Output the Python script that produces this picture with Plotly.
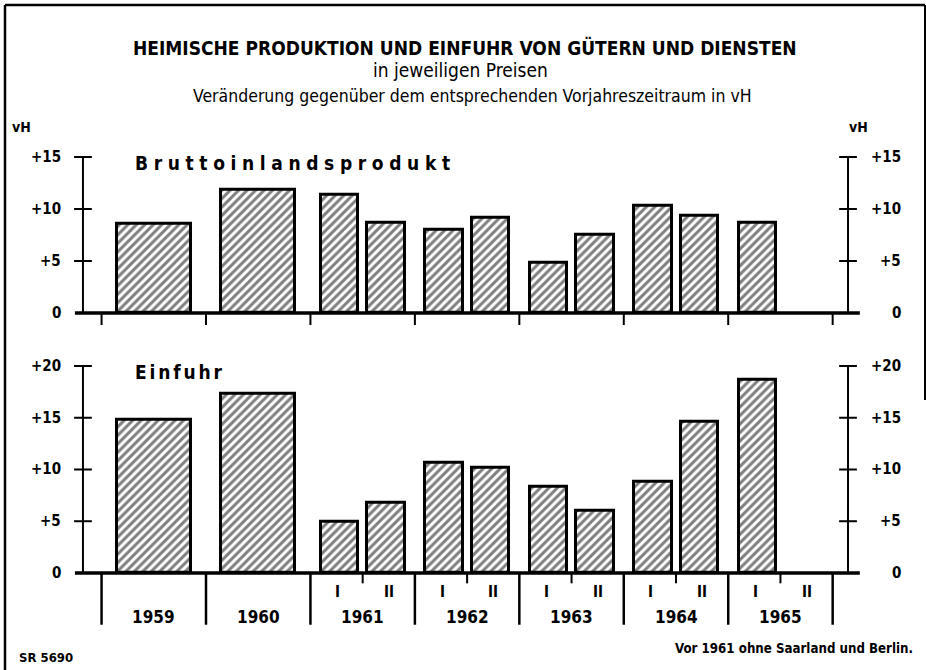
import plotly.graph_objects as go

# ---------------- data ----------------
periods = ["1959", "1960",
           "1961 I", "1961 II", "1962 I", "1962 II", "1963 I", "1963 II",
           "1964 I", "1964 II", "1965 I", "1965 II"]
years = ["1959", "1960", "1961", "1962", "1963", "1964", "1965"]
half_labels = ["I", "II"]
bip = [8.6, 11.8, 11.4, 8.7, 8.0, 9.2, 4.8, 7.5, 10.3, 9.3, 8.7, None]
einfuhr = [14.8, 17.3, 4.9, 6.8, 10.6, 10.2, 8.3, 6.0, 8.8, 14.6, 18.7, None]
ticks_bip = [0, 5, 10, 15]
ticks_bip_text = ["0", "+5", "+10", "+15"]
ticks_einf = [0, 5, 10, 15, 20]
ticks_einf_text = ["0", "+5", "+10", "+15", "+20"]

title1 = "HEIMISCHE PRODUKTION UND EINFUHR VON GÜTERN UND DIENSTEN"
title2 = "in jeweiligen Preisen"
title3 = "Veränderung gegenüber dem entsprechenden Vorjahreszeitraum in vH"
panel1 = "Bruttoinlandsprodukt"
panel2 = "Einfuhr"
note_left = "SR 5690"
note_right = "Vor 1961 ohne Saarland und Berlin."

# ---------------- layout helpers ----------------
W, H = 926, 670
FONT = "Liberation Sans Narrow, DejaVu Sans Condensed, Roboto, Arial, sans-serif"
X_RANGE = [-0.35, 7.3]
X_DOM = [65 / W, 864 / W]
Y1_RANGE = [-1.5, 15.5]
Y2_RANGE = [-5.5, 20.5]
def py(p):
    return 1 - p / H
Y1_DOM = [py(328.6), py(151.8)]
Y2_DOM = [py(629.9), py(360.8)]
AX_L, AX_R = -0.178, 7.147
TICK_HALF = 0.085
BASE_L, BASE_R = -0.255, 7.26

# bar positions derived from the period labels
xs, ws = [], []
for p in periods:
    parts = p.split()
    yi = years.index(parts[0])
    if len(parts) == 1:
        xs.append(yi + 0.5)
        ws.append(0.71)
    else:
        xs.append(yi + (0.28 if parts[1] == "I" else 0.725))
        ws.append(0.36)

bar_style = dict(color="white",
                 line=dict(color="black", width=3),
                 pattern=dict(shape="/", fgcolor="black", bgcolor="white",
                              size=6, solidity=0.5))

fig = go.Figure()
fig.add_trace(go.Bar(x=xs, y=bip, width=ws, marker=bar_style,
                     xaxis="x", yaxis="y", showlegend=False, hoverinfo="skip"))
fig.add_trace(go.Bar(x=xs, y=einfuhr, width=ws, marker=bar_style,
                     xaxis="x2", yaxis="y2", showlegend=False, hoverinfo="skip"))

axis_common = dict(showgrid=False, zeroline=False, showline=False,
                   showticklabels=False, ticks="", fixedrange=True)
fig.update_layout(
    width=W, height=H,
    margin=dict(l=0, r=0, t=0, b=0),
    paper_bgcolor="white", plot_bgcolor="white",
    font=dict(family=FONT, color="black"),
    bargap=0,
    xaxis=dict(domain=X_DOM, range=X_RANGE, anchor="y", **axis_common),
    yaxis=dict(domain=Y1_DOM, range=Y1_RANGE, anchor="x", **axis_common),
    xaxis2=dict(domain=X_DOM, range=X_RANGE, anchor="y2", matches="x", **axis_common),
    yaxis2=dict(domain=Y2_DOM, range=Y2_RANGE, anchor="x2", **axis_common),
)

shapes = []
ann = []
LINE = dict(color="black", width=2)

def axis_set(xr, yr, ticks, ticks_text, below_fn):
    # baseline
    shapes.append(dict(type="line", xref=xr, yref=yr, x0=BASE_L, x1=BASE_R,
                       y0=0, y1=0, line=dict(color="black", width=3.5)))
    for ax in (AX_L, AX_R):
        shapes.append(dict(type="line", xref=xr, yref=yr, x0=ax, x1=ax,
                           y0=0, y1=ticks[-1], line=LINE))
        for t in ticks[1:]:
            shapes.append(dict(type="line", xref=xr, yref=yr,
                               x0=ax - TICK_HALF, x1=ax + TICK_HALF,
                               y0=t, y1=t, line=LINE))
    for t, tt in zip(ticks, ticks_text):
        ann.append(dict(xref="paper", yref=yr, x=63 / W, y=t, text=tt,
                        xanchor="right", yanchor="middle", showarrow=False,
                        font=dict(size=15, weight="bold")))
        ann.append(dict(xref="paper", yref=yr, x=903 / W, y=t, text=tt,
                        xanchor="right", yanchor="middle", showarrow=False,
                        font=dict(size=15, weight="bold")))
    below_fn(xr, yr)

def below_top(xr, yr):
    for k in range(len(years) + 1):
        shapes.append(dict(type="line", xref=xr, yref=yr, x0=k, x1=k,
                           y0=0, y1=-1.15, line=LINE))

def below_bottom(xr, yr):
    for k in range(len(years) + 1):
        shapes.append(dict(type="line", xref=xr, yref=yr, x0=k, x1=k,
                           y0=0, y1=-5.0, line=dict(color="black", width=2.5)))
    for k, y in enumerate(years):
        ann.append(dict(xref=xr, yref=yr, x=k + 0.5, y=-4.25, text=y,
                        showarrow=False, xanchor="center", yanchor="middle",
                        font=dict(size=17, weight="bold")))
        if k >= 2:
            shapes.append(dict(type="line", xref=xr, yref=yr, x0=k + 0.5,
                               x1=k + 0.5, y0=0, y1=-1.0, line=LINE))
            for off, hl in zip((0.26, 0.75), half_labels):
                ann.append(dict(xref=xr, yref=yr, x=k + off, y=-1.84, text=hl,
                                showarrow=False, xanchor="center",
                                yanchor="middle",
                                font=dict(size=15, weight="bold")))

axis_set("x", "y", ticks_bip, ticks_bip_text, below_top)
axis_set("x2", "y2", ticks_einf, ticks_einf_text, below_bottom)

# frame
shapes.append(dict(type="line", xref="paper", yref="paper", x0=5 / W, x1=5 / W,
                   y0=py(5), y1=py(670), line=dict(color="black", width=2.5)))
shapes.append(dict(type="line", xref="paper", yref="paper", x0=5 / W, x1=925 / W,
                   y0=py(5), y1=py(5), line=dict(color="black", width=2.5)))
shapes.append(dict(type="line", xref="paper", yref="paper", x0=925 / W, x1=925 / W,
                   y0=py(5), y1=py(400), line=dict(color="black", width=2)))

# titles
ann.append(dict(xref="paper", yref="paper", x=465 / W, y=py(48), text=title1,
                showarrow=False, xanchor="center", yanchor="middle",
                font=dict(size=19, weight="bold")))
ann.append(dict(xref="paper", yref="paper", x=460 / W, y=py(70), text=title2,
                showarrow=False, xanchor="center", yanchor="middle",
                font=dict(size=19)))
ann.append(dict(xref="paper", yref="paper", x=472 / W, y=py(96), text=title3,
                showarrow=False, xanchor="center", yanchor="middle",
                font=dict(size=17.5)))
ann.append(dict(xref="paper", yref="paper", x=21 / W, y=py(127), text="vH",
                showarrow=False, xanchor="center", yanchor="middle",
                font=dict(size=14, weight="bold")))
ann.append(dict(xref="paper", yref="paper", x=858 / W, y=py(127), text="vH",
                showarrow=False, xanchor="center", yanchor="middle",
                font=dict(size=14, weight="bold")))
# panel labels (letter spaced)
ann.append(dict(xref="paper", yref="paper", x=133 / W, y=py(163),
                text="\u2004".join(panel1), showarrow=False,
                xanchor="left", yanchor="middle",
                font=dict(size=19, weight="bold")))
ann.append(dict(xref="paper", yref="paper", x=133 / W, y=py(372),
                text="\u2006".join(panel2), showarrow=False,
                xanchor="left", yanchor="middle",
                font=dict(size=19, weight="bold")))
# notes
ann.append(dict(xref="paper", yref="paper", x=17 / W, y=py(657), text=note_left,
                showarrow=False, xanchor="left", yanchor="middle",
                font=dict(size=13, weight="bold")))
ann.append(dict(xref="paper", yref="paper", x=915 / W, y=py(648), text=note_right,
                showarrow=False, xanchor="right", yanchor="middle",
                font=dict(size=13.2, weight="bold")))

fig.update_layout(shapes=shapes, annotations=ann)
fig.write_html("out.html",
               config={"displayModeBar": False},
               post_script="document.body.style.margin='0';"
                           "document.body.style.overflow='hidden';")
